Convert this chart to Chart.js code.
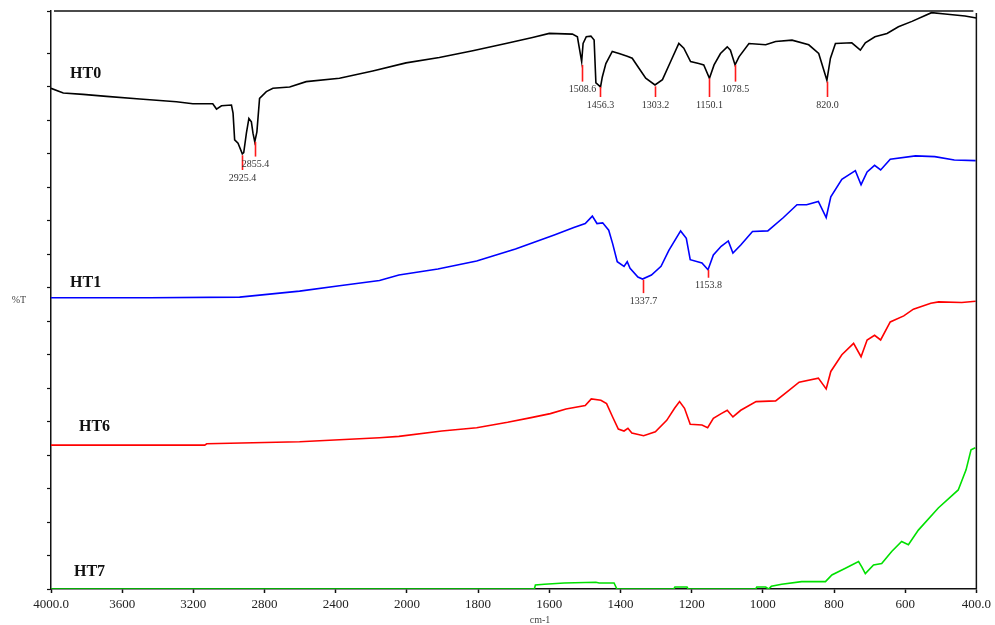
<!DOCTYPE html>
<html>
<head>
<meta charset="utf-8">
<script src="https://cdn.jsdelivr.net/npm/chart.js@4.4.0/dist/chart.umd.min.js"></script>
<style>
  html, body { margin: 0; padding: 0; background: #fff; }
  #wrap { width: 995px; height: 625px; position: relative; }
</style>
</head>
<body>
<div id="wrap"><canvas id="chart"></canvas></div>
<script>
// wavenumber axis (cm-1): 400 steps above 2000, 200 steps below (expanded)
const xTicks = [4000, 3600, 3200, 2800, 2400, 2000, 1800, 1600, 1400, 1200, 1000, 800, 600, 400];
const xTickLabels = ['4000.0', '3600', '3200', '2800', '2400', '2000', '1800', '1600', '1400', '1200', '1000', '800', '600', '400.0'];

// HT0 (black)
const ht0Wn = [4000, 3931, 3820, 3688, 3501, 3295, 3203, 3091, 3070, 3042, 2986, 2977, 2968, 2949, 2925, 2917, 2902, 2888, 2874, 2865, 2855, 2843, 2828, 2790, 2753, 2659, 2566, 2379, 2192, 2005, 1909, 1815, 1722, 1647, 1600, 1535, 1521, 1509, 1505, 1496, 1483, 1474, 1469, 1456, 1451, 1441, 1423, 1404, 1381, 1367, 1348, 1329, 1303, 1282, 1259, 1236, 1222, 1203, 1180, 1166, 1150, 1137, 1119, 1100, 1091, 1078, 1067, 1039, 992, 964, 918, 871, 843, 820, 810, 796, 750, 726, 712, 685, 651, 619, 581, 526, 488, 432, 400];
const ht0T = [74.8, 74.1, 73.9, 73.6, 73.2, 72.8, 72.5, 72.5, 71.7, 72.2, 72.3, 71.1, 67.1, 66.6, 65.0, 65.2, 68.1, 70.3, 69.8, 68.1, 66.8, 68.3, 73.3, 74.3, 74.8, 75.0, 75.8, 76.3, 77.4, 78.6, 79.4, 80.4, 81.5, 82.4, 83.0, 82.9, 82.5, 78.8, 81.5, 82.5, 82.6, 82.0, 75.6, 75.0, 76.5, 78.5, 80.3, 80.0, 79.6, 79.3, 77.8, 76.3, 75.3, 76.1, 78.8, 81.5, 80.8, 78.8, 78.5, 78.3, 76.3, 78.3, 80.0, 81.0, 80.5, 78.3, 79.5, 81.5, 81.3, 81.8, 82.0, 81.3, 80.0, 76.0, 79.3, 81.5, 81.6, 80.5, 81.6, 82.5, 83.0, 84.0, 84.8, 86.1, 85.9, 85.6, 85.3];

// HT1 (blue)
const ht1Wn = [4000, 3445, 2940, 2603, 2379, 2154, 2045, 1913, 1804, 1695, 1586, 1531, 1499, 1479, 1466, 1450, 1433, 1422, 1409, 1390, 1381, 1373, 1351, 1338, 1313, 1286, 1264, 1231, 1215, 1204, 1171, 1154, 1139, 1117, 1097, 1084, 1062, 1029, 986, 942, 904, 877, 844, 822, 809, 778, 740, 724, 707, 686, 669, 642, 571, 517, 462, 402];
const ht1T = [43.5, 43.5, 43.6, 44.5, 45.3, 46.1, 46.9, 47.8, 49.0, 50.8, 52.9, 54.0, 54.6, 55.7, 54.6, 54.7, 53.6, 51.6, 48.9, 48.2, 48.9, 47.9, 46.6, 46.3, 46.9, 48.2, 50.6, 53.5, 52.4, 49.2, 48.7, 47.7, 49.9, 51.2, 52.0, 50.2, 51.4, 53.4, 53.5, 55.5, 57.4, 57.4, 57.9, 55.5, 58.6, 61.2, 62.5, 60.4, 62.3, 63.3, 62.6, 64.2, 64.7, 64.6, 64.1, 64.0];

// HT6 (red)
const ht6Wn = [4000, 3136, 3125, 2603, 2154, 2045, 1902, 1804, 1717, 1651, 1597, 1553, 1499, 1482, 1455, 1439, 1422, 1406, 1390, 1379, 1368, 1335, 1302, 1270, 1248, 1234, 1220, 1204, 1171, 1155, 1139, 1117, 1100, 1084, 1062, 1019, 964, 931, 898, 844, 822, 809, 778, 745, 724, 707, 686, 669, 642, 604, 577, 528, 506, 441, 402];
const ht6T = [21.5, 21.5, 21.7, 22.0, 22.6, 22.8, 23.6, 24.1, 24.9, 25.6, 26.2, 26.9, 27.4, 28.4, 28.2, 27.7, 25.7, 23.9, 23.6, 24.0, 23.3, 22.9, 23.5, 25.2, 27.0, 28.0, 27.0, 24.6, 24.5, 24.1, 25.5, 26.2, 26.7, 25.7, 26.7, 28.0, 28.1, 29.5, 30.9, 31.5, 29.9, 32.5, 35.0, 36.7, 34.7, 37.2, 37.9, 37.2, 39.9, 40.8, 41.8, 42.7, 42.9, 42.8, 43.0];

// HT7 (green)
const ht7Wn = [4000, 1642, 1639, 1614, 1558, 1469, 1460, 1418, 1410, 1250, 1247, 1213, 1210, 1020, 1017, 992, 984, 976, 947, 891, 824, 806, 768, 731, 722, 712, 689, 666, 638, 610, 591, 563, 507, 451, 429, 415, 403];
const ht7T = [0, 0, 0.6, 0.7, 0.9, 1.0, 0.9, 0.9, 0, 0, 0.3, 0.3, 0, 0, 0.3, 0.3, 0, 0.4, 0.7, 1.1, 1.1, 2.1, 3.1, 4.1, 3.3, 2.3, 3.6, 3.8, 5.6, 7.1, 6.6, 8.8, 12.1, 14.8, 17.8, 20.8, 21.1];

// peak picks
const peakWn = [2925.4, 2855.4, 1508.6, 1456.3, 1303.2, 1150.1, 1078.5, 820.0, 1337.7, 1153.8];
const peakLabel = ['2925.4', '2855.4', '1508.6', '1456.3', '1303.2', '1150.1', '1078.5', '820.0', '1337.7', '1153.8'];
const peakTop = [64.8, 66.8, 78.3, 75.0, 75.1, 76.3, 78.3, 75.8, 46.2, 47.7];
const peakBottom = [62.6, 64.6, 75.8, 73.5, 73.5, 73.5, 75.8, 73.5, 44.2, 46.5];

// sample names
const names = ['HT0', 'HT1', 'HT6', 'HT7'];
const nameWn = [3893, 3893, 3843, 3871];
const nameT = [76.9, 45.7, 24.2, 2.6];

const SERIF = '"Liberation Serif", "Times New Roman", serif';

// x scale with the usual FTIR 2x expansion below 2000 cm-1
class FtirScale extends Chart.LinearScale {
  getPixelForValue(v) {
    const u = v >= 2000 ? (4000 - v) / 400 : 5 + (2000 - v) / 200;
    return this.getPixelForDecimal(u / 13);
  }
  getValueForPixel(p) {
    const u = this.getDecimalForPixel(p) * 13;
    return u <= 5 ? 4000 - 400 * u : 2000 - 200 * (u - 5);
  }
}
FtirScale.id = 'ftir';
FtirScale.defaults = Chart.LinearScale.defaults;
Chart.register(FtirScale);

function pts(wn, t) { return wn.map((w, i) => ({ x: w, y: t[i] })); }

const extras = {
  id: 'extras',
  afterDatasetsDraw(chart) {
    const { ctx, chartArea: a, scales: { x, y } } = chart;
    ctx.save();
    // frame top and right
    ctx.strokeStyle = '#111';
    ctx.lineWidth = 1.5;
    ctx.beginPath();
    ctx.moveTo(a.left + 3, a.top);
    ctx.lineTo(a.right - 3, a.top);
    ctx.moveTo(a.right, a.top + 2);
    ctx.lineTo(a.right, a.bottom);
    ctx.stroke();

    // peak markers
    ctx.strokeStyle = '#ff1a1a';
    ctx.lineWidth = 1.6;
    ctx.fillStyle = '#333';
    ctx.font = '10px ' + SERIF;
    ctx.textAlign = 'center';
    ctx.textBaseline = 'top';
    peakWn.forEach((w, i) => {
      const px = Math.round(x.getPixelForValue(w)) + 0.5;
      const y1 = y.getPixelForValue(peakTop[i]);
      const y2 = y.getPixelForValue(peakBottom[i]);
      ctx.beginPath();
      ctx.moveTo(px, y1);
      ctx.lineTo(px, y2);
      ctx.stroke();
      ctx.fillText(peakLabel[i], px, y2 + 3);
    });

    // sample names
    ctx.fillStyle = '#111';
    ctx.font = 'bold 16px ' + SERIF;
    ctx.textAlign = 'left';
    ctx.textBaseline = 'middle';
    names.forEach((n, i) => ctx.fillText(n, x.getPixelForValue(nameWn[i]), y.getPixelForValue(nameT[i])));

    // axis titles
    ctx.fillStyle = '#444';
    ctx.font = '10px ' + SERIF;
    ctx.textAlign = 'center';
    ctx.fillText('%T', 19, (a.top + a.bottom) / 2);
    ctx.fillText('cm-1', 540, 620);
    ctx.restore();
  }
};

new Chart(document.getElementById('chart'), {
  type: 'line',
  data: {
    datasets: [
      { label: 'HT0', data: pts(ht0Wn, ht0T), borderColor: '#000000' },
      { label: 'HT1', data: pts(ht1Wn, ht1T), borderColor: '#0000ff' },
      { label: 'HT6', data: pts(ht6Wn, ht6T), borderColor: '#ff0000' },
      { label: 'HT7', data: pts(ht7Wn, ht7T), borderColor: '#00e000' }
    ]
  },
  options: {
    responsive: true,
    maintainAspectRatio: false,
    animation: false,
    layout: { padding: { top: 11, right: 17, left: 0, bottom: 0 } },
    elements: {
      line: { borderWidth: 1.6, tension: 0, fill: false },
      point: { radius: 0, hoverRadius: 0 }
    },
    plugins: { legend: { display: false }, tooltip: { enabled: false } },
    scales: {
      x: {
        type: 'ftir',
        min: 400,
        max: 4000,
        afterBuildTicks: s => { s.ticks = xTicks.map(v => ({ value: v })); },
        afterFit: s => { s.height = 36; },
        grid: { drawOnChartArea: false, drawTicks: true, tickLength: 4, tickColor: '#111', tickWidth: 1.5 },
        border: { display: true, color: '#111', width: 1.5 },
        ticks: {
          autoSkip: false,
          maxRotation: 0,
          padding: 4,
          color: '#222',
          font: { family: SERIF, size: 13 },
          callback: (v, i) => xTickLabels[i]
        }
      },
      y: {
        min: 0,
        max: 86.35,
        afterFit: s => { s.width = 51; },
        grid: { drawOnChartArea: false, drawTicks: true, tickLength: 4, tickColor: '#111', tickWidth: 1.2 },
        border: { display: true, color: '#111', width: 1.5 },
        ticks: { stepSize: 5, display: false }
      }
    }
  },
  plugins: [extras]
});
</script>
</body>
</html>
